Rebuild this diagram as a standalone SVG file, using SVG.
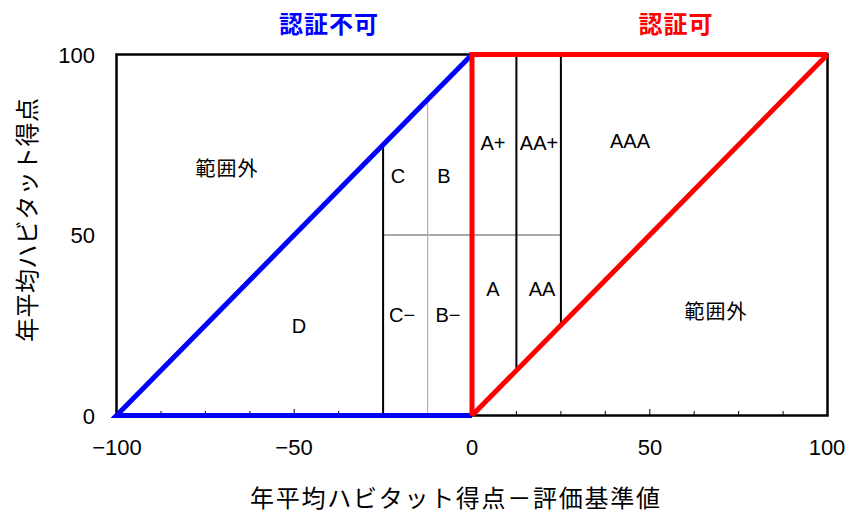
<svg xmlns="http://www.w3.org/2000/svg" width="850" height="513" viewBox="0 0 850 513">
<style>
.lbl{font-family:"Liberation Sans","Noto Sans CJK JP",sans-serif;font-size:20px;fill:#000;text-anchor:middle}
.jp{font-family:"Noto Sans CJK JP",sans-serif;font-size:20px;fill:#000;text-anchor:middle;letter-spacing:1px}
.tick{font-family:"Liberation Sans",sans-serif;font-size:22px;fill:#000}
.ttl{font-family:"Noto Sans CJK JP",sans-serif;font-size:24px;font-weight:bold;text-anchor:middle}
.ax{font-family:"Noto Sans CJK JP",sans-serif;font-size:24px;fill:#000;text-anchor:middle}
.frame{stroke:#000;stroke-width:2.5;fill:none}
.div{stroke:#000;stroke-width:2;fill:none}
.thin{stroke:#b0b0b0;stroke-width:1.2;fill:none}
.mid{stroke:#555;stroke-width:1;fill:none}
.blue{stroke:#0000ff;stroke-width:5;fill:none;stroke-linecap:butt}
.red{stroke:#ff0000;stroke-width:5;fill:none}
.tk{stroke:#000;stroke-width:1}
</style>
<rect width="850" height="513" fill="#fff"/>
<g id="connectors">
<rect class="frame" x="116.5" y="54.5" width="711" height="361"/>
<g id="ticks">
<line class="tk" x1="161" y1="415" x2="161" y2="411"/>
<line class="tk" x1="205.4" y1="415" x2="205.4" y2="411"/>
<line class="tk" x1="249.9" y1="415" x2="249.9" y2="411"/>
<line class="tk" x1="294.2" y1="415" x2="294.2" y2="409"/>
<line class="tk" x1="338.7" y1="415" x2="338.7" y2="411"/>
<line class="tk" x1="516.4" y1="415" x2="516.4" y2="411"/>
<line class="tk" x1="560.9" y1="415" x2="560.9" y2="411"/>
<line class="tk" x1="605.3" y1="415" x2="605.3" y2="411"/>
<line class="tk" x1="649.8" y1="415" x2="649.8" y2="409"/>
<line class="tk" x1="694.2" y1="415" x2="694.2" y2="411"/>
<line class="tk" x1="738.6" y1="415" x2="738.6" y2="411"/>
<line class="tk" x1="783.1" y1="415" x2="783.1" y2="411"/>
</g>
<line class="mid" x1="383.1" y1="235" x2="560.9" y2="235"/>
<line class="thin" x1="427.6" y1="99.6" x2="427.6" y2="415.5"/>
<line class="div" x1="383.1" y1="144.8" x2="383.1" y2="415.5"/>
<line class="div" x1="516.4" y1="54.5" x2="516.4" y2="370.4"/>
<line class="div" x1="560.9" y1="54.5" x2="560.9" y2="325.3"/>
<polyline class="blue" points="472,415.5 116.5,415.5 472,54.5"/>
<polyline class="red" points="472,415.5 472,54.5 827.5,54.5"/>
<line class="red" x1="472" y1="415.5" x2="827.5" y2="54.5"/>
</g>
<g id="region-out-left"><text class="jp" x="227" y="176">範囲外</text></g>
<g id="region-C"><text class="lbl" x="398" y="183">C</text></g>
<g id="region-B"><text class="lbl" x="444" y="183">B</text></g>
<g id="region-Aplus"><text class="lbl" x="493" y="150">A+</text></g>
<g id="region-AAplus"><text class="lbl" x="539" y="150">AA+</text></g>
<g id="region-AAA"><text class="lbl" x="630" y="148">AAA</text></g>
<g id="region-D"><text class="lbl" x="299" y="333">D</text></g>
<g id="region-Cminus"><text class="lbl" x="402" y="322">C−</text></g>
<g id="region-Bminus"><text class="lbl" x="448" y="322">B−</text></g>
<g id="region-A"><text class="lbl" x="493" y="296">A</text></g>
<g id="region-AA"><text class="lbl" x="542" y="296">AA</text></g>
<g id="region-out-right"><text class="jp" x="716" y="319">範囲外</text></g>
<g id="title-ng"><text class="ttl" x="329" y="33" fill="#0000ff" style="letter-spacing:1px">認証不可</text></g>
<g id="title-ok"><text class="ttl" x="676" y="33" fill="#ff0000" style="letter-spacing:1px">認証可</text></g>
<g id="y-ticks">
<text class="tick" x="95" y="63" text-anchor="end">100</text>
<text class="tick" x="95" y="243" text-anchor="end">50</text>
<text class="tick" x="95" y="424" text-anchor="end">0</text>
</g>
<g id="x-ticks">
<text class="tick" x="117" y="455" text-anchor="middle">−100</text>
<text class="tick" x="294" y="455" text-anchor="middle">−50</text>
<text class="tick" x="472" y="455" text-anchor="middle">0</text>
<text class="tick" x="650" y="455" text-anchor="middle">50</text>
<text class="tick" x="827" y="455" text-anchor="middle">100</text>
</g>
<g id="x-title"><text class="ax" x="455" y="507" textLength="410" lengthAdjust="spacing">年平均ハビタット得点－評価基準値</text></g>
<g id="y-title"><text class="ax" transform="translate(36,220) rotate(-90)" x="0" y="0" textLength="244" lengthAdjust="spacing">年平均ハビタット得点</text></g>
</svg>
